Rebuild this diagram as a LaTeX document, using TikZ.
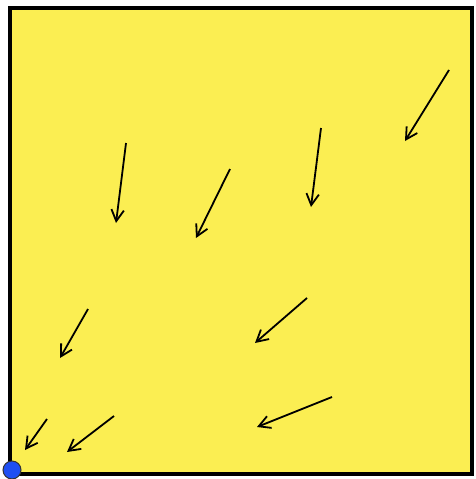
\documentclass[tikz,border=0pt]{standalone}
\usepackage{tikz}
\usetikzlibrary{arrows.meta}
\definecolor{fieldyellow}{HTML}{FBEE52}
\definecolor{dotblue}{HTML}{1F4FF2}

\begin{document}
\begin{tikzpicture}[
      x=1pt, y=-1pt,
      field/.style={draw, line width=3.2pt, fill=fieldyellow},
      vec/.style={-{Straight Barb[length=4mm, width=4.4mm]}, line width=1.8pt},
      origin/.style={circle, draw=black!80, line width=1pt, fill=dotblue, minimum size=18pt, inner sep=0pt},
    ]
      \useasboundingbox (0,0) rectangle (475,479);
      \draw[field] (10,8) rectangle (472,474);
      \node[origin] (o) at (12,470) {};
      % vector tails and heads
      \coordinate (a1) at (449,70);  \coordinate (b1) at (405,141);
      \coordinate (a2) at (126,143); \coordinate (b2) at (116,223);
      \coordinate (a3) at (230,169); \coordinate (b3) at (196,238);
      \coordinate (a4) at (321,128); \coordinate (b4) at (311,207);
      \coordinate (a5) at (88,309);  \coordinate (b5) at (60,358);
      \coordinate (a6) at (307,298); \coordinate (b6) at (255,343);
      \coordinate (a7) at (332,397); \coordinate (b7) at (257,427);
      \coordinate (a8) at (47,419);  \coordinate (b8) at (25,450);
      \coordinate (a9) at (114,416); \coordinate (b9) at (67,452);
      \foreach \i in {1,...,9}
        \draw[vec] (a\i) -- (b\i);
    \end{tikzpicture}
\end{document}
